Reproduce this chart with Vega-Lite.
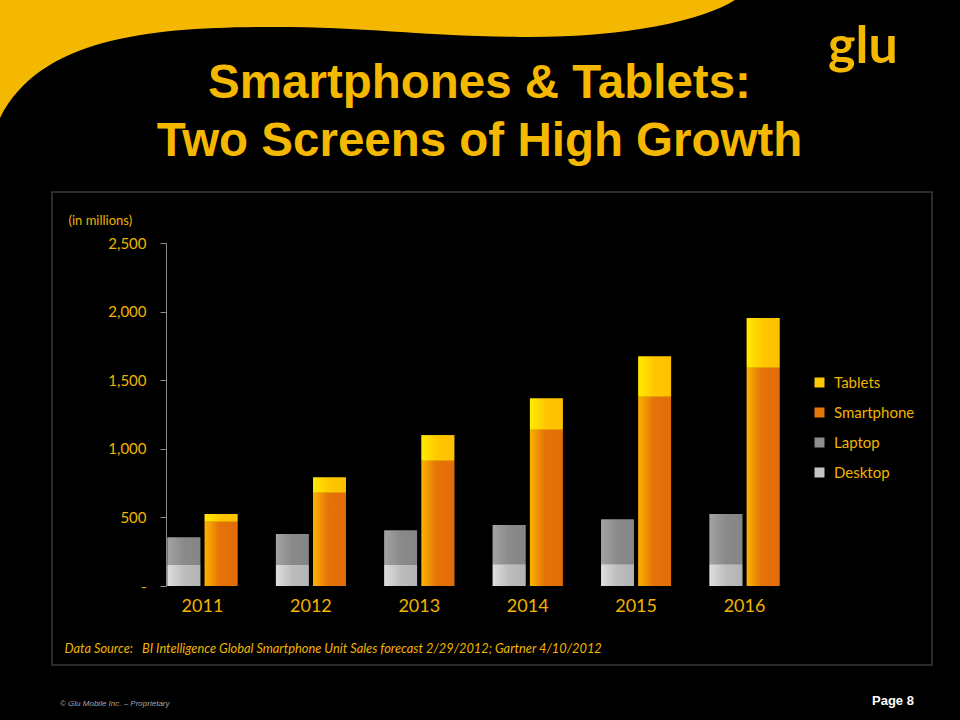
{
  "$schema": "https://vega.github.io/schema/vega-lite/v6.json",
  "autosize": {"type": "none"},
  "width": 615,
  "height": 343,
  "padding": {"left": 166, "top": 243, "right": 179, "bottom": 134},
  "background": "#000000",
  "title": {
    "text": ["Smartphones & Tablets:", "Two Screens of High Growth"],
    "font": "Liberation Sans",
    "fontSize": 47.5,
    "fontWeight": "bold",
    "color": "#F4B800",
    "lineHeight": 58,
    "anchor": "middle",
    "frame": "group",
    "dx": 6,
    "offset": -165
  },
  "datasets": {
    "sales": [
      {"year": "2011", "device": "PC", "series": "Desktop", "units": 153},
      {"year": "2011", "device": "PC", "series": "Laptop", "units": 201},
      {"year": "2011", "device": "Mobile", "series": "Smartphone", "units": 471},
      {"year": "2011", "device": "Mobile", "series": "Tablets", "units": 53},
      {"year": "2012", "device": "PC", "series": "Desktop", "units": 153},
      {"year": "2012", "device": "PC", "series": "Laptop", "units": 226},
      {"year": "2012", "device": "Mobile", "series": "Smartphone", "units": 682},
      {"year": "2012", "device": "Mobile", "series": "Tablets", "units": 109},
      {"year": "2013", "device": "PC", "series": "Desktop", "units": 153},
      {"year": "2013", "device": "PC", "series": "Laptop", "units": 252},
      {"year": "2013", "device": "Mobile", "series": "Smartphone", "units": 915},
      {"year": "2013", "device": "Mobile", "series": "Tablets", "units": 184},
      {"year": "2014", "device": "PC", "series": "Desktop", "units": 158},
      {"year": "2014", "device": "PC", "series": "Laptop", "units": 286},
      {"year": "2014", "device": "Mobile", "series": "Smartphone", "units": 1141},
      {"year": "2014", "device": "Mobile", "series": "Tablets", "units": 225},
      {"year": "2015", "device": "PC", "series": "Desktop", "units": 158},
      {"year": "2015", "device": "PC", "series": "Laptop", "units": 327},
      {"year": "2015", "device": "Mobile", "series": "Smartphone", "units": 1381},
      {"year": "2015", "device": "Mobile", "series": "Tablets", "units": 291},
      {"year": "2016", "device": "PC", "series": "Desktop", "units": 158},
      {"year": "2016", "device": "PC", "series": "Laptop", "units": 366},
      {"year": "2016", "device": "Mobile", "series": "Smartphone", "units": 1592},
      {"year": "2016", "device": "Mobile", "series": "Tablets", "units": 362}
    ]
  },
  "layer": [
    {
      "data": {"values": [{"decor": "swoosh"}]},
      "mark": {
        "type": "point",
        "shape": "M-473.5,-414.5L261.5,-414.5C226.5,-392.5 146.5,-376.5 46.5,-377.5C-53.5,-378.5 -113.5,-388.5 -213.5,-387.5C-323.5,-386.5 -433.5,-376.5 -473.5,-296.5Z",
        "size": 4,
        "filled": true,
        "fill": "#F4B800",
        "strokeWidth": 0,
        "opacity": 1
      },
      "encoding": {}
    },
    {
      "data": {"values": [{"decor": "panel"}]},
      "mark": {
        "type": "point",
        "shape": "M-421.5,-222.5L458.5,-222.5L458.5,250.5L-421.5,250.5Z",
        "size": 4,
        "filled": false,
        "stroke": "#3A3A3A",
        "strokeWidth": 1.5,
        "opacity": 1
      },
      "encoding": {}
    },
    {
      "data": {"name": "sales"},
      "mark": {"type": "bar"},
      "encoding": {
        "x": {
          "field": "year",
          "type": "nominal",
          "scale": {"paddingInner": 0.355, "paddingOuter": 0.014},
          "axis": {
            "labelAngle": 0,
            "labelColor": "#F0B400",
            "labelFont": "Lato",
            "labelFontSize": 18,
            "labelPadding": 11,
            "domain": false,
            "ticks": false,
            "title": "Data Source:\u00a0\u00a0 BI Intelligence Global Smartphone Unit Sales forecast 2/29/2012; Gartner 4/10/2012",
            "titleFont": "Lato",
            "titleFontSize": 12.8,
            "titleFontStyle": "italic",
            "titleFontWeight": "normal",
            "titleColor": "#F0B400",
            "titleAlign": "left",
            "titleBaseline": "alphabetic",
            "titleX": -102,
            "titleY": 66
          }
        },
        "xOffset": {
          "field": "device",
          "type": "nominal",
          "sort": ["PC", "Mobile"],
          "scale": {"paddingInner": 0.12, "paddingOuter": 0}
        },
        "y": {
          "field": "units",
          "type": "quantitative",
          "stack": "zero",
          "scale": {"domain": [0, 2500], "nice": false},
          "axis": {
            "values": [0, 500, 1000, 1500, 2000, 2500],
            "format": ",.0f",
            "labelExpr": "datum.value === 0 ? '-\u00a0\u00a0' : datum.label",
            "labelColor": "#F0B400",
            "labelFont": "Lato",
            "labelFontSize": 15,
            "labelPadding": 14,
            "tickSize": 6,
            "tickColor": "#8C8C8C",
            "domainColor": "#8C8C8C",
            "grid": false,
            "title": "(in millions)",
            "titleFont": "Lato",
            "titleFontSize": 13,
            "titleFontWeight": "normal",
            "titleColor": "#F0B400",
            "titleAngle": 0,
            "titleAlign": "left",
            "titleBaseline": "alphabetic",
            "titleX": -98,
            "titleY": -19
          }
        },
        "color": {
          "field": "series",
          "type": "nominal",
          "scale": {
            "domain": ["Tablets", "Smartphone", "Laptop", "Desktop"],
            "range": ["#FFC800", "#E8770A", "#8E8E8E", "#C4C4C4"]
          },
          "legend": {
            "orient": "none",
            "legendX": 646,
            "legendY": 132,
            "title": null,
            "padding": 0,
            "symbolType": "square",
            "symbolSize": 100,
            "symbolStrokeWidth": 0,
            "labelFont": "Lato",
            "labelFontSize": 15,
            "labelColor": "#F0B400",
            "labelOffset": 7,
            "rowPadding": 14
          }
        },
        "order": {"field": "series", "sort": "ascending"}
      }
    },
    {
      "data": {"name": "sales"},
      "mark": {"type": "bar"},
      "encoding": {
        "x": {"field": "year", "type": "nominal"},
        "xOffset": {"field": "device", "type": "nominal", "sort": ["PC", "Mobile"]},
        "y": {"field": "units", "type": "quantitative", "stack": "zero"},
        "detail": {"field": "series", "type": "nominal"},
        "order": {"field": "series", "sort": "ascending"},
        "fill": {
          "condition": [
            {"test": "datum.series === 'Tablets'", "value": {"gradient": "linear", "x1": 0, "x2": 1, "y1": 0, "y2": 0, "stops": [{"offset": 0, "color": "#FFEB00"}, {"offset": 0.5, "color": "#FFC600"}, {"offset": 1, "color": "#FFC000"}]}},
            {"test": "datum.series === 'Smartphone'", "value": {"gradient": "linear", "x1": 0, "x2": 1, "y1": 0, "y2": 0, "stops": [{"offset": 0, "color": "#F9B400"}, {"offset": 0.45, "color": "#E67309"}, {"offset": 1, "color": "#E36C0A"}]}},
            {"test": "datum.series === 'Laptop'", "value": {"gradient": "linear", "x1": 0, "x2": 1, "y1": 0, "y2": 0, "stops": [{"offset": 0, "color": "#A3A3A3"}, {"offset": 0.5, "color": "#8A8A8A"}, {"offset": 1, "color": "#858585"}]}}
          ],
          "value": {"gradient": "linear", "x1": 0, "x2": 1, "y1": 0, "y2": 0, "stops": [{"offset": 0, "color": "#DEDEDE"}, {"offset": 0.5, "color": "#BDBDBD"}, {"offset": 1, "color": "#B3B3B3"}]}
        }
      }
    },
    {
      "data": {"values": [{"decor": "logo"}]},
      "mark": {"type": "text", "text": "glu", "font": "Lato", "fontSize": 52, "fontWeight": "bold", "color": "#F4B800", "align": "left", "baseline": "alphabetic", "dx": 354.5, "dy": -351.5},
      "encoding": {}
    },
    {
      "data": {"values": [{"decor": "footer"}]},
      "mark": {"type": "text", "text": "© Glu Mobile Inc. – Proprietary", "font": "Liberation Sans", "fontSize": 8, "fontStyle": "italic", "color": "#A6A6A6", "align": "left", "baseline": "alphabetic", "dx": -413.5, "dy": 291.5},
      "encoding": {}
    },
    {
      "data": {"values": [{"decor": "page"}]},
      "mark": {"type": "text", "text": "Page 8", "font": "Liberation Sans", "fontSize": 13, "fontWeight": "bold", "color": "#FFFFFF", "align": "left", "baseline": "alphabetic", "dx": 398.5, "dy": 290.5},
      "encoding": {}
    }
  ],
  "config": {
    "view": {"stroke": null}
  }
}
